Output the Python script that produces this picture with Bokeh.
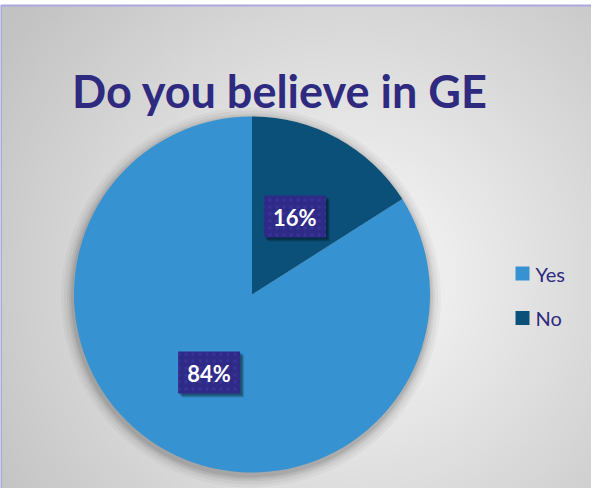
import numpy as np
from bokeh.plotting import figure
from bokeh.models import Range1d
from bokeh.core.properties import value
from bokeh.embed import file_html
from bokeh.resources import INLINE

# ---- data ----
title_text = "Do you believe in GE"
categories = ["Yes", "No"]
values = [84, 16]
colors = ["#3692D0", "#0A5078"]

# ---- layout ----
W, H = 591, 488
def X(px):
    return px - 8
def Y(py):
    return H - (py - 8)

p = figure(width=W, height=H, x_range=Range1d(0, W), y_range=Range1d(0, H),
           output_backend="svg", toolbar_location=None, min_border=0,
           background_fill_color="white", border_fill_color="white")
p.axis.visible = False
p.grid.visible = False
p.outline_line_color = None

# background radial gradient (chart area)
top_py = 13
nx, ny = 150, 125
xs = np.linspace(X(8), X(8 + W), nx)
ys = np.linspace(0, Y(top_py), ny)
gx, gy = np.meshgrid(xs, ys)
cxg, cyg = X(360), Y(285)
d = np.sqrt((gx - cxg) ** 2 + (gy - cyg) ** 2)
g = 250 - 56 * np.clip(d / 430.0, 0, 1)
g = g.astype(np.uint32)
img = (255 << 24) | (g << 16) | (g << 8) | g
img = img.astype(np.uint32)
p.image_rgba(image=[img], x=0, y=0, dw=W, dh=Y(top_py))
# border
p.line(x=[0, W], y=[Y(top_py), Y(top_py)], line_color="#ABA8E2", line_width=2)
p.line(x=[0.5, 0.5], y=[0, Y(top_py)], line_color="#ABA8E2", line_width=2)

# pie geometry
cx, cy, r = X(259.5), Y(302), 178.0
total = float(sum(values))
angles = np.array(values) / total * 2 * np.pi
starts = np.pi / 2 + np.concatenate([[0], np.cumsum(angles)[:-1]])
ends = starts + angles
mids = (starts + ends) / 2

# soft shadow around pie
for k, a in zip([12, 9, 6, 4, 2], [0.03, 0.04, 0.05, 0.06, 0.08]):
    p.circle(x=[cx - 1], y=[cy - 3], radius=r + k, fill_color="black",
             fill_alpha=a, line_color=None)

p.wedge(x=cx, y=cy, radius=r, start_angle=starts, end_angle=ends,
        fill_color=colors, line_color=None)

# data labels
lx = cx + 0.5 * r * np.cos(mids)
ly = cy + 0.5 * r * np.sin(mids)
labels = [f"{v}%" for v in values]
for dx, dy, a in [(4, -4, 0.12), (3, -3, 0.18), (2, -2, 0.22)]:
    p.rect(x=lx + dx, y=ly + dy, width=62, height=42, fill_color="black",
           fill_alpha=a, line_color=None)
p.rect(x=lx, y=ly, width=62, height=42, fill_color="#2E2A86", line_color=None,
       hatch_pattern="dot", hatch_color="#3B36A0", hatch_alpha=0.8,
       hatch_scale=7, hatch_weight=1)
p.text(x=lx, y=ly - 1, text=labels, text_color="white", text_font=value("Lato"),
       text_font_style="bold", text_font_size="22px", text_align="center",
       text_baseline="middle")

# title
p.text(x=[X(287.5)], y=[Y(98)], text=[title_text], text_color="#2E2A80",
       text_font=value("Lato"), text_font_style="bold", text_font_size="45px",
       text_align="center", text_baseline="alphabetic")

# legend
leg_y = [Y(281), Y(325.5)]
p.rect(x=[X(530)] * 2, y=leg_y, width=14, height=14, fill_color=colors, line_color=None)
p.text(x=[X(543)] * 2, y=leg_y, text=categories, text_color="#2E2A7E",
       text_font=value("Lato"), text_font_size="20px", text_align="left",
       text_baseline="middle")

open("out.html", "w").write(file_html(p, INLINE))
